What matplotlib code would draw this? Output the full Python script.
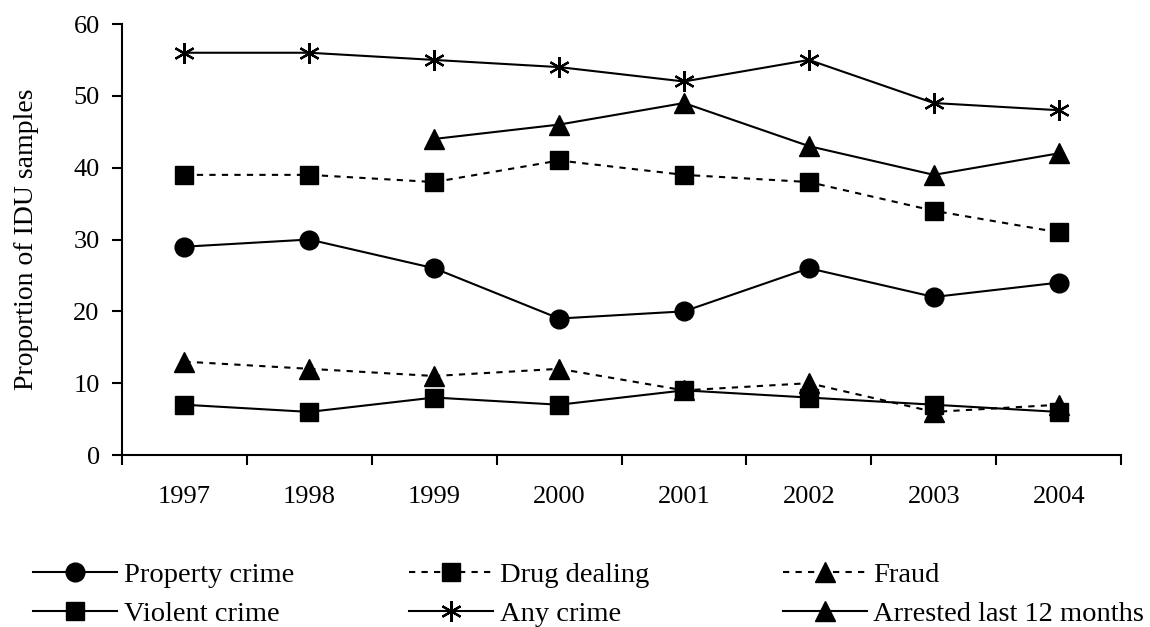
import numpy as np
import matplotlib
matplotlib.use('Agg')
import matplotlib.pyplot as plt

# datos
years = ['1997', '1998', '1999', '2000', '2001', '2002', '2003', '2004']
property_crime = [29, 30, 26, 19, 20, 26, 22, 24]
drug_dealing = [39, 39, 38, 41, 39, 38, 34, 31]
fraud = [13, 12, 11, 12, 9, 10, 6, 7]
violent_crime = [7, 6, 8, 7, 9, 8, 7, 6]
any_crime = [56, 56, 55, 54, 52, 55, 49, 48]
arrested = [np.nan, np.nan, 44, 46, 49, 43, 39, 42]

plt.rcParams['font.family'] = ['Liberation Serif', 'DejaVu Serif']

fig = plt.figure(figsize=(11.5, 6.27), dpi=100)
ax = fig.add_axes([0.106, 0.2743, 0.869, 0.6874])

x = np.arange(len(years))
lw = 1.5
dots = (0, (3, 3))

l_prop, = ax.plot(x, property_crime, '-', color='black', lw=lw, marker='o', ms=13.5, label='Property crime')
l_drug, = ax.plot(x, drug_dealing, color='black', lw=lw, ls=dots, marker='s', ms=13, label='Drug dealing')
l_fraud, = ax.plot(x, fraud, color='black', lw=lw, ls=dots, marker='^', ms=14.5, label='Fraud')
l_viol, = ax.plot(x, violent_crime, '-', color='black', lw=lw, marker='s', ms=13, label='Violent crime')
l_any, = ax.plot(x, any_crime, '-', color='black', lw=lw, marker=(6, 2, 0), ms=15, mew=1.6, label='Any crime')
l_arr, = ax.plot(x, arrested, '-', color='black', lw=lw, marker='^', ms=14.5, label='Arrested last 12 months')

ax.set_xlim(-0.5, len(years) - 0.5)
ax.set_ylim(0, 60)
ax.set_yticks(range(0, 61, 10))
ax.set_xticks(x)
ax.set_xticklabels(years)
ax.set_xticks(np.arange(-0.5, len(years), 1), minor=True)
ax.tick_params(axis='x', which='major', length=0, pad=22, labelsize=19)
ax.tick_params(axis='x', which='minor', length=7, width=1.5, direction='out')
ax.tick_params(axis='y', length=7, width=1.5, direction='out', labelsize=19, pad=9)

ax.spines['right'].set_visible(False)
ax.spines['top'].set_visible(False)
ax.spines['left'].set_linewidth(1.5)
ax.spines['bottom'].set_linewidth(1.5)

ax.set_ylabel('Proportion of IDU samples', fontsize=20, labelpad=25)

# una leyenda por columna para fijar sus posiciones
columns = [(0.029, [l_prop, l_viol]), (0.356, [l_drug, l_any]), (0.681, [l_fraud, l_arr])]
for xpos, hs in columns:
    fig.legend(hs, [h.get_label() for h in hs], loc='upper left',
               bbox_to_anchor=(xpos, 0.104), frameon=False, fontsize=20.5,
               handlelength=2.95, handletextpad=0.22, labelspacing=0.46,
               borderpad=0, borderaxespad=0)

fig.savefig('out.png', dpi=100)
